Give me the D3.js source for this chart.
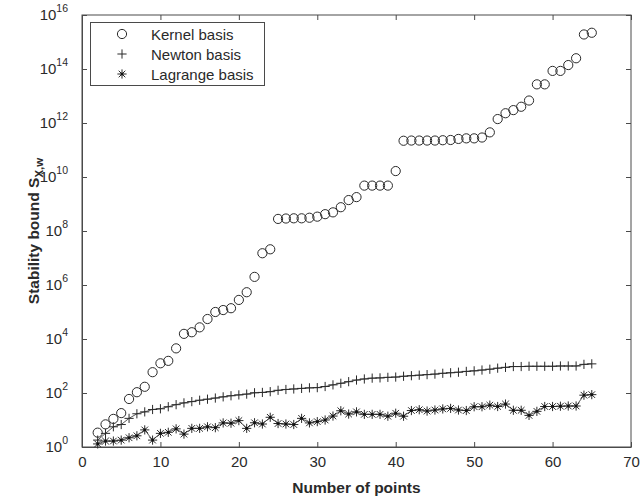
<!DOCTYPE html>
<html><head><meta charset="utf-8">
<script src="https://cdn.jsdelivr.net/npm/d3@7"></script>
<style>
html,body{margin:0;padding:0;background:#fff;}
svg{display:block;font-family:"Liberation Sans",Arial,Helvetica,sans-serif;}
</style></head>
<body><svg id="chart" width="640" height="500"></svg>
<script>
const points = [2,3,4,5,6,7,8,9,10,11,12,13,14,15,16,17,18,19,20,21,22,23,24,25,26,27,28,29,30,31,32,33,
  34,35,36,37,38,39,40,41,42,43,44,45,46,47,48,49,50,51,52,53,54,55,56,57,58,59,60,61,62,63,64,65];
const kernel = [3.4,6.9,11,18,60,107,170,590,1.26e3,1.55e3,4.5e3,1.55e4,1.78e4,2.7e4,5.5e4,1.0e5,1.18e5,1.38e5,
  2.8e5,5.4e5,2.0e6,1.5e7,2.1e7,2.8e8,2.9e8,2.95e8,2.95e8,3.1e8,3.4e8,4.2e8,4.9e8,7.6e8,1.4e9,1.8e9,
  4.8e9,4.8e9,4.8e9,4.8e9,1.66e10,2.2e11,2.24e11,2.24e11,2.24e11,2.24e11,2.3e11,2.35e11,2.57e11,2.7e11,
  2.7e11,2.9e11,4.5e11,1.4e12,2.3e12,3.0e12,4.0e12,6.8e12,2.7e13,2.7e13,8.5e13,8.5e13,1.4e14,2.5e14,1.9e15,2.2e15];
const newton = [1.8,3.2,5.6,6.8,11.5,17,20,24.5,26,31,37,43,48,54,59,65,72,79,85,91,102,105,112,126,135,141,148,
  155,158,174,200,229,263,302,331,355,363,380,389,417,437,457,479,501,537,562,589,631,661,708,759,832,891,
  955,955,977,977,977,977,1000,1000,1000,1150,1200];
const lagrange = [1.3,1.66,1.66,1.8,2.2,2.6,4.3,1.8,3.2,3.5,4.7,3.0,4.9,4.9,5.6,5.2,7.8,7.6,9.5,4.9,7.9,7.1,12.6,
  7.4,7.1,6.8,11.5,7.8,8.7,10,14,22,16.6,20,16.2,16.2,16.2,13.8,17.8,13.8,22.4,24,21.4,23.4,25.7,26.9,23.4,
  22.4,31,31,35.5,31.6,38.9,22.9,22.9,14.8,20.9,31.6,31.6,32.4,33,33,83,87];
const xTicks = [0,10,20,30,40,50,60,70];
const yTickExponents = [0,2,4,6,8,10,12,14,16];
const seriesNames = ["Kernel basis","Newton basis","Lagrange basis"];

const svg = d3.select("#chart");
const L = 82, R = 631, T = 15, B = 447;
const x = d3.scaleLinear().domain([0,70]).range([L,R]);
const y = d3.scaleLog().domain([1,1e16]).range([B,T]);
const axisColor = "#4a4a4a", ink = "#2a2a2a", fs = 15;

// frame
svg.append("rect").attr("x",L).attr("y",T).attr("width",R-L).attr("height",B-T)
  .attr("fill","none").attr("stroke",axisColor).attr("stroke-width",1);

// bottom axis
const gx = svg.append("g").attr("transform",`translate(0,${B})`)
  .call(d3.axisBottom(x).tickValues(xTicks).tickSizeInner(-5).tickSizeOuter(0).tickPadding(9));
gx.select(".domain").attr("stroke",axisColor);
gx.selectAll(".tick line").attr("stroke",axisColor);
gx.selectAll("text").attr("font-size",fs).attr("fill",ink).attr("font-family",null);
// top ticks
svg.append("g").attr("transform",`translate(0,${T})`)
  .call(d3.axisTop(x).tickValues(xTicks).tickSizeInner(-5).tickSizeOuter(0).tickFormat(""))
  .call(g=>{g.select(".domain").remove(); g.selectAll("line").attr("stroke",axisColor);});

// left axis (ticks only, custom labels)
const yTickVals = yTickExponents.map(e=>Math.pow(10,e));
svg.append("g").attr("transform",`translate(${L},0)`)
  .call(d3.axisLeft(y).tickValues(yTickVals).tickSizeInner(-5).tickSizeOuter(0).tickFormat(""))
  .call(g=>{g.select(".domain").attr("stroke",axisColor); g.selectAll("line").attr("stroke",axisColor);});
svg.append("g").attr("transform",`translate(${R},0)`)
  .call(d3.axisRight(y).tickValues(yTickVals).tickSizeInner(-5).tickSizeOuter(0).tickFormat(""))
  .call(g=>{g.select(".domain").remove(); g.selectAll("line").attr("stroke",axisColor);});

const yl = svg.append("g");
yTickExponents.forEach(e=>{
  const t = yl.append("text").attr("x",68).attr("y",y(Math.pow(10,e))+5)
    .attr("text-anchor","end").attr("font-size",fs).attr("fill",ink);
  t.append("tspan").text("10");
  t.append("tspan").attr("dy",-8).attr("font-size",10.5).text(e);
});

// axis titles
svg.append("text").attr("x",(L+R)/2).attr("y",493).attr("text-anchor","middle")
  .attr("font-size",15.5).attr("font-weight","bold").attr("fill",ink).text("Number of points");
const yt = svg.append("text").attr("transform",`translate(39,${(T+B)/2}) rotate(-90)`)
  .attr("text-anchor","middle").attr("font-size",15.5).attr("font-weight","bold").attr("fill",ink);
yt.append("tspan").text("Stability bound S");
yt.append("tspan").attr("dy",4).attr("font-size",11.5).text("X,w");

// marker shapes
const mk = ink;
function circleMark(g,cx,cy){ g.append("circle").attr("cx",cx).attr("cy",cy).attr("r",4.6)
  .attr("fill","none").attr("stroke",mk).attr("stroke-width",1); }
function plusMark(g,cx,cy){ const s=4.6;
  g.append("path").attr("d",`M${cx-s},${cy}H${cx+s}M${cx},${cy-s}V${cy+s}`).attr("stroke",mk).attr("stroke-width",1).attr("fill","none"); }
function starMark(g,cx,cy){ const s=4.6, d=3.3;
  g.append("path").attr("d",`M${cx-s},${cy}H${cx+s}M${cx},${cy-s}V${cy+s}M${cx-d},${cy-d}L${cx+d},${cy+d}M${cx-d},${cy+d}L${cx+d},${cy-d}`)
   .attr("stroke",mk).attr("stroke-width",1).attr("fill","none");
  g.append("rect").attr("x",cx-1.3).attr("y",cy-1.3).attr("width",2.6).attr("height",2.6).attr("fill","#111"); }

const plot = svg.append("g");
const line = d3.line().x(d=>x(d[0])).y(d=>y(d[1]));
const newtonPts = points.map((p,i)=>[p,newton[i]]);
const lagrangePts = points.map((p,i)=>[p,lagrange[i]]);
plot.append("path").datum(newtonPts).attr("d",line).attr("fill","none").attr("stroke",mk).attr("stroke-width",0.8);
plot.append("path").datum(lagrangePts).attr("d",line).attr("fill","none").attr("stroke",mk).attr("stroke-width",0.8);
points.forEach((p,i)=>{
  circleMark(plot,x(p),y(kernel[i]));
  plusMark(plot,x(p),y(newton[i]));
  starMark(plot,x(p),y(lagrange[i]));
});

// legend
const lg = svg.append("g");
lg.append("rect").attr("x",90.5).attr("y",22.5).attr("width",174).attr("height",63)
  .attr("fill","#fff").attr("stroke",axisColor).attr("stroke-width",1);
const marks=[circleMark,plusMark,starMark];
seriesNames.forEach((n,i)=>{
  const cy = 34 + i*20;
  marks[i](lg,122,cy);
  lg.append("text").attr("x",151).attr("y",cy+5.5).attr("font-size",15).attr("fill",ink).text(n);
});
</script></body></html>
